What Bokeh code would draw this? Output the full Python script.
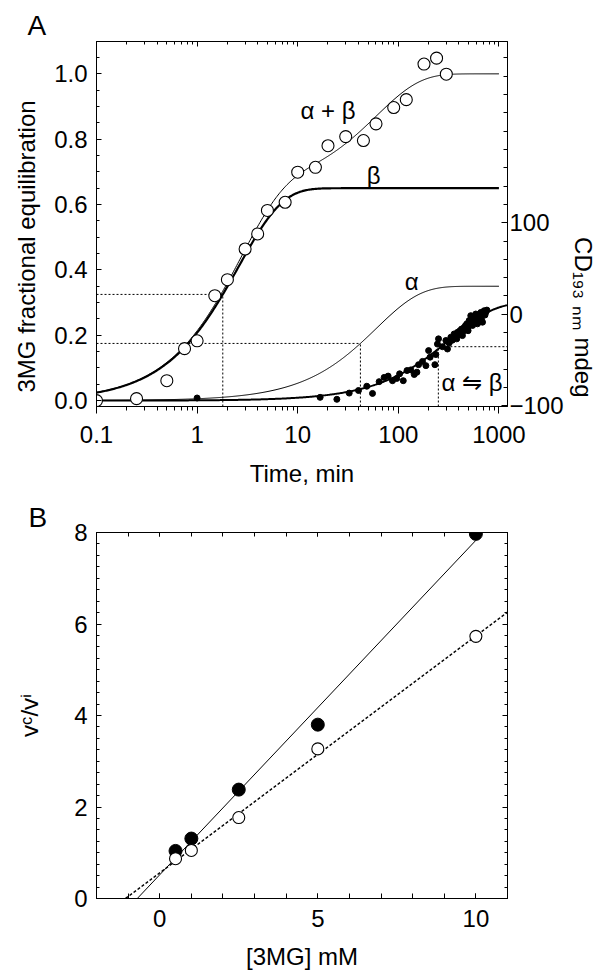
import numpy as np
from bokeh.plotting import figure
from bokeh.models import (FixedTicker, LogAxis, LinearAxis, Range1d, Label, Title,
                          CustomJSTickFormatter, PrintfTickFormatter)
from bokeh.layouts import column
from bokeh.embed import file_html
from bokeh.resources import INLINE

FONT = "Liberation Sans"
FS = "24px"

# ---------------- Panel A data ----------------
open_t = [0.1, 0.25, 0.5, 0.75, 1.0, 1.5, 2.0, 3.0, 4.0, 5.0, 7.5, 10, 15, 20,
          30, 45, 60, 90, 120, 180, 240, 300]
open_y = [0.0, 0.006, 0.061, 0.159, 0.183, 0.321, 0.370, 0.464, 0.510, 0.582,
          0.607, 0.699, 0.714, 0.780, 0.808, 0.796, 0.847, 0.897, 0.921, 1.030,
          1.048, 0.999]

filled_t = [1.0, 16.7, 24.5, 32.5, 40.2, 48.6, 55.4, 64.5, 72.3, 79.2, 87.5,
            96.6, 103, 112, 122, 133, 144, 153, 159, 174, 188, 200, 207, 231,
            236, 245, 251, 275, 297, 308,
            320, 333, 345, 359, 370, 381, 388, 400, 410, 418, 425, 434, 442,
            451, 460, 466, 480, 490, 494, 506, 515, 525, 535, 547, 555, 567,
            578, 589, 600, 612, 624, 636, 648, 661, 672, 687, 700, 713, 727,
            740, 759]
filled_y = [0.008, 0.010, 0.004, 0.023, 0.031, 0.044, 0.022, 0.058, 0.071,
            0.075, 0.061, 0.068, 0.082, 0.061, 0.092, 0.094, 0.080, 0.087,
            0.110, 0.120, 0.107, 0.153, 0.133, 0.110, 0.141, 0.173, 0.189,
            0.165, 0.184, 0.158,
            0.176, 0.194, 0.185, 0.204, 0.195, 0.189, 0.209, 0.201, 0.214,
            0.206, 0.219, 0.199, 0.212, 0.224, 0.216, 0.230, 0.235, 0.222,
            0.214, 0.245, 0.232, 0.260, 0.238, 0.230, 0.248, 0.250, 0.241,
            0.265, 0.252, 0.235, 0.258, 0.255, 0.262, 0.270, 0.248, 0.240,
            0.266, 0.275, 0.262, 0.270, 0.277]

# first-order fits: plateau and half-time (min)
beta_plateau, beta_half = 0.65, 1.8
alpha_plateau, alpha_half = 0.35, 42.0
ab_plateau, ab_half = 0.30, 231.0
ab_guide_t, ab_guide_y = 250.0, 0.165

x_ticks_a = [0.1, 1, 10, 100, 1000]
y_ticks_a = [0.0, 0.2, 0.4, 0.6, 0.8, 1.0]
cd_ticks = [-100, 0, 100]

# ---------------- Panel B data ----------------
conc = [0.5, 1.0, 2.5, 5.0, 10.0]
ratio_filled = [1.04, 1.31, 2.38, 3.80, 7.97]
ratio_open = [0.87, 1.05, 1.77, 3.27, 5.73]
fit_filled_slope, fit_filled_icpt, fit_filled_x = 0.731, 0.519, [-0.71, 10.0]
fit_open_slope, fit_open_icpt, fit_open_x = 0.518, 0.560, [-1.08, 11.0]
x_ticks_b = [0, 5, 10]
y_ticks_b = [0, 2, 4, 6, 8]


def first_order(t, plateau, half):
    t = np.asarray(t, dtype=float)
    return plateau * (1.0 - np.exp(-np.log(2.0) * t / half))


def style_axis(ax, size=FS):
    ax.axis_line_color = "black"
    ax.major_tick_line_color = "black"
    ax.minor_tick_line_color = "black"
    ax.major_label_text_font = FONT
    ax.major_label_text_font_size = size
    ax.major_label_text_color = "black"
    ax.axis_label_text_font = FONT
    ax.axis_label_text_font_size = size
    ax.axis_label_text_font_style = "normal"
    ax.axis_label_text_color = "black"


def hide_labels(ax):
    ax.formatter = CustomJSTickFormatter(code="return ''")
    ax.major_label_text_font_size = "1px"
    ax.major_label_standoff = 0


def title(text, size, **kw):
    return Title(text=text, text_font=FONT, text_font_size=size,
                 text_font_style="normal", text_color="black", **kw)


# ================= Panel A =================
XMAX = 1217
p1 = figure(width=601, height=494, x_axis_type="log",
            x_range=Range1d(0.1, XMAX), y_range=Range1d(-0.018, 1.099),
            output_backend="svg", toolbar_location=None,
            min_border_left=96, min_border_right=94, min_border_top=41,
            min_border_bottom=88)
p1.xgrid.visible = False
p1.ygrid.visible = False
p1.outline_line_color = "black"
p1.extra_y_ranges = {"cd": Range1d(-100.8, 298.0)}

minor_log = [m * 10.0 ** e for e in range(-1, 4) for m in range(1, 10)
             if m * 10.0 ** e <= XMAX]
log_ticker = FixedTicker(ticks=x_ticks_a, minor_ticks=minor_log)
xa = p1.xaxis[0]
xa.ticker = log_ticker
xa.formatter = CustomJSTickFormatter(code="return String(tick)")
style_axis(xa)
xa.major_tick_in, xa.major_tick_out = 0, 7
xa.minor_tick_in, xa.minor_tick_out = 0, 4
xa.major_label_standoff = 12
xa.axis_label = "Time, min"
xa.axis_label_standoff = 14

ya = p1.yaxis[0]
ya.ticker = FixedTicker(ticks=y_ticks_a,
                        minor_ticks=[float(v) for v in np.round(np.arange(0, 1.1, 0.05), 2)])
ya.formatter = PrintfTickFormatter(format="%.1f")
style_axis(ya)
ya.major_tick_in, ya.major_tick_out = 5, 0
ya.minor_tick_in, ya.minor_tick_out = 3, 0
ya.major_label_standoff = 9

top_a = LogAxis(ticker=log_ticker)
style_axis(top_a)
hide_labels(top_a)
top_a.major_tick_in, top_a.major_tick_out = 5, 0
top_a.minor_tick_in, top_a.minor_tick_out = 3, 0
p1.add_layout(top_a, "above")

right_a = LinearAxis(y_range_name="cd",
                     ticker=FixedTicker(ticks=cd_ticks,
                                        minor_ticks=list(range(-100, 300, 20))))
right_a.formatter = CustomJSTickFormatter(
    code="return tick < 0 ? '\u2212' + Math.abs(tick) : String(tick)")
style_axis(right_a)
right_a.major_tick_in, right_a.major_tick_out = 6, 0
right_a.minor_tick_in, right_a.minor_tick_out = 4, 0
right_a.major_label_standoff = 2
p1.add_layout(right_a, "right")

p1.add_layout(title("A", "28px", align="left", offset=-69, standoff=0,
                    vertical_align="middle"), "above")
p1.add_layout(title("3MG fractional equilibration", FS, align="left", offset=14,
                    standoff=20, vertical_align="top"), "left")
p1.add_layout(title("CD\u2081\u2089\u2083 \u2099\u2098 mdeg", FS, align="right",
                    offset=9, standoff=2, vertical_align="top"), "right")

# curves
t_curve = np.logspace(-1, 3, 400)
t_curve2 = np.logspace(-1, np.log10(XMAX), 400)
beta_c = first_order(t_curve, beta_plateau, beta_half)
alpha_c = first_order(t_curve, alpha_plateau, alpha_half)
p1.line(t_curve, beta_c + alpha_c, line_color="black", line_width=1.0)
p1.line(t_curve, beta_c, line_color="black", line_width=2.2)
p1.line(t_curve, alpha_c, line_color="black", line_width=1.0)
p1.line(t_curve2, first_order(t_curve2, ab_plateau, ab_half),
        line_color="black", line_width=2.0)

# dotted guides
bh = beta_plateau / 2
ah = alpha_plateau / 2
y0 = -0.018
for xs, ys in [([0.1, beta_half], [bh, bh]), ([beta_half, beta_half], [y0, bh]),
               ([0.1, alpha_half], [ah, ah]), ([alpha_half, alpha_half], [y0, ah]),
               ([ab_guide_t, XMAX], [ab_guide_y, ab_guide_y]),
               ([ab_guide_t, ab_guide_t], [y0, ab_guide_y])]:
    p1.line(xs, ys, line_dash="2 2", line_color="black", line_width=1)

# data
p1.scatter(filled_t, filled_y, size=6, fill_color="black", line_color="black")
p1.scatter(open_t, open_y, size=12, fill_color="white", line_color="black",
           line_width=1.1)

for txt, tx, ty in [("\u03b1 + \u03b2", 20, 0.888), ("\u03b2", 57, 0.688),
                    ("\u03b1", 136, 0.365), ("\u03b1 \u21cb \u03b2", 540, 0.055)]:
    p1.add_layout(Label(x=tx, y=ty, text=txt, text_font=FONT,
                        text_font_size=FS, text_align="center",
                        text_baseline="middle", text_color="black"))

# ================= Panel B =================
p2 = figure(width=601, height=483, x_range=Range1d(-2, 11), y_range=Range1d(0, 8),
            output_backend="svg", toolbar_location=None,
            min_border_left=96, min_border_right=94, min_border_top=38,
            min_border_bottom=79)
p2.xgrid.visible = False
p2.ygrid.visible = False
p2.outline_line_color = "black"

xb_ticker = FixedTicker(ticks=x_ticks_b, minor_ticks=list(range(-2, 12)))
yb_ticker = FixedTicker(ticks=y_ticks_b,
                        minor_ticks=[float(v) for v in np.arange(0, 8.01, 0.25)])

xb = p2.xaxis[0]
xb.ticker = xb_ticker
style_axis(xb)
xb.major_tick_in, xb.major_tick_out = 5, 0
xb.minor_tick_in, xb.minor_tick_out = 5, 0
xb.major_label_standoff = 11
xb.axis_label = "[3MG] mM"
xb.axis_label_standoff = 13

yb = p2.yaxis[0]
yb.ticker = yb_ticker
style_axis(yb)
yb.major_tick_in, yb.major_tick_out = 5, 0
yb.minor_tick_in, yb.minor_tick_out = 3, 0
yb.major_label_standoff = 9
yb.axis_label = "v\u1d9c/v\u2071"
yb.axis_label_standoff = 28

top_b = LinearAxis(ticker=xb_ticker)
style_axis(top_b)
hide_labels(top_b)
top_b.major_tick_in, top_b.major_tick_out = 4, 0
top_b.minor_tick_in, top_b.minor_tick_out = 4, 0
p2.add_layout(top_b, "above")

right_b = LinearAxis(ticker=yb_ticker)
style_axis(right_b)
hide_labels(right_b)
right_b.major_tick_in, right_b.major_tick_out = 5, 0
right_b.minor_tick_in, right_b.minor_tick_out = 3, 0
p2.add_layout(right_b, "right")

p2.add_layout(title("B", "28px", align="left", offset=-68, standoff=0,
                    vertical_align="bottom"), "above")

fx = np.array(fit_filled_x)
ox = np.array(fit_open_x)
p2.line(fx, fit_filled_icpt + fit_filled_slope * fx, line_color="black", line_width=1.0)
p2.line(ox, fit_open_icpt + fit_open_slope * ox, line_color="black", line_width=1.5,
        line_dash="3 2")
p2.scatter(conc, ratio_filled, size=13, fill_color="black", line_color="black")
p2.scatter(conc, ratio_open, size=12, fill_color="white", line_color="black",
           line_width=1.1)

layout = column(p1, p2)
open("out.html", "w").write(file_html(layout, INLINE))
